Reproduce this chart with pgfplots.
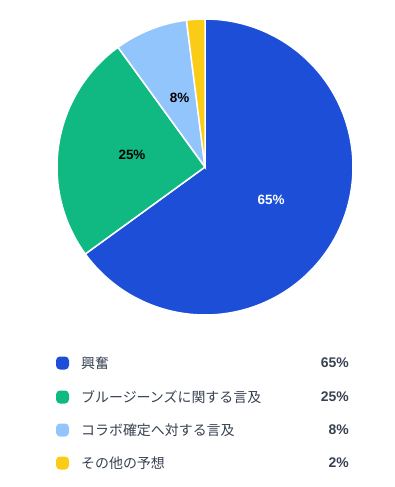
\documentclass[border=0pt]{standalone}
\usepackage{pgfplots}
\pgfplotsset{compat=1.18}
\usepackage{fontspec}
\setmainfont{Liberation Sans}
\newfontfamily\jp{Noto Sans CJK JP}
\definecolor{cA}{HTML}{1D4ED8}
\definecolor{cB}{HTML}{10B981}
\definecolor{cC}{HTML}{93C5FD}
\definecolor{cD}{HTML}{FACC15}
\definecolor{txt}{HTML}{374151}
% values (percent)
\def\vA{65}\def\vB{25}\def\vC{8}\def\vD{2}
\def\cx{205}\def\cy{167}\def\R{148}
\newcommand\legrow[4]{%
  \fill[#1, rounded corners=4bp] (axis cs:56,#4-6.5) rectangle (axis cs:69,#4+6.5);
  \node[anchor=west, text=txt, font=\jp\fontsize{14}{16}\selectfont, inner sep=0pt] at (axis cs:81,#4) {#2};
  \node[anchor=east, text=txt, font=\fontsize{14}{16}\selectfont\bfseries, inner sep=0pt] at (axis cs:349,#4) {#3\%};
}
\begin{document}
\begin{tikzpicture}
\pgfmathsetmacro{\aA}{90}
\pgfmathsetmacro{\aB}{90-3.6*\vA}
\pgfmathsetmacro{\aC}{\aB-3.6*\vB}
\pgfmathsetmacro{\aD}{\aC-3.6*\vC}
\pgfmathsetmacro{\aE}{\aD-3.6*\vD}
\begin{axis}[
  scale only axis, width=395bp, height=487bp,
  xmin=0, xmax=395, ymin=0, ymax=487, y dir=reverse,
  hide axis, clip=false,
]
\path (axis cs:0,0) rectangle (axis cs:395,487);
\addplot[fill=cA, draw=white, line width=1.5pt, domain=\aB:\aA, samples=120, smooth]
  ({\cx+\R*cos(x)},{\cy-\R*sin(x)}) -- (axis cs:\cx,\cy) -- cycle;
\addplot[fill=cB, draw=white, line width=1.5pt, domain=\aC:\aB, samples=60, smooth]
  ({\cx+\R*cos(x)},{\cy-\R*sin(x)}) -- (axis cs:\cx,\cy) -- cycle;
\addplot[fill=cC, draw=white, line width=1.5pt, domain=\aD:\aC, samples=30, smooth]
  ({\cx+\R*cos(x)},{\cy-\R*sin(x)}) -- (axis cs:\cx,\cy) -- cycle;
\addplot[fill=cD, draw=white, line width=1.5pt, domain=\aE:\aD, samples=10, smooth]
  ({\cx+\R*cos(x)},{\cy-\R*sin(x)}) -- (axis cs:\cx,\cy) -- cycle;
% slice labels
\node[text=white, font=\fontsize{13.5}{15}\selectfont\bfseries] at (axis cs:271,200) {65\%};
\node[text=black, font=\fontsize{13.5}{15}\selectfont\bfseries] at (axis cs:132,155) {25\%};
\node[text=black, font=\fontsize{13.5}{15}\selectfont\bfseries] at (axis cs:179.5,97.5) {8\%};
% legend
\legrow{cA}{興奮}{65}{363}
\legrow{cB}{ブルージーンズに関する言及}{25}{397}
\legrow{cC}{コラボ確定へ対する言及}{8}{430}
\legrow{cD}{その他の予想}{2}{463}
\end{axis}
\end{tikzpicture}
\end{document}
